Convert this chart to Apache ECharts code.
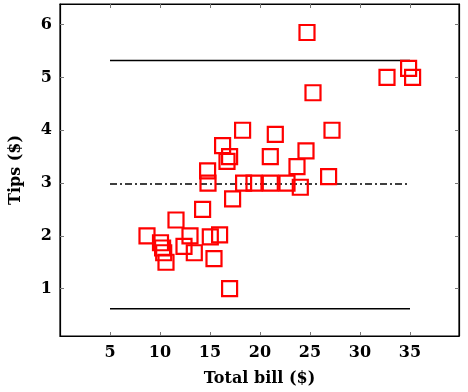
<!DOCTYPE html>
<html><head><meta charset="utf-8">
<script src="https://cdn.jsdelivr.net/npm/echarts@6/dist/echarts.min.js"></script>
<style>html,body{margin:0;padding:0;background:#fff}#c{width:468px;height:392px}</style>
</head><body><div id="c"></div>
<script>
var billX = [24.7, 34.86, 32.7, 35.26, 25.3, 18.26, 27.2, 21.53, 16.26, 16.96, 16.7, 21.03, 24.6, 23.7, 14.76, 14.8, 26.86, 18.36, 19.4, 21.03, 22.7, 24.03, 17.26, 14.26, 11.6, 8.7, 13.0, 15.03, 15.96, 10.05, 12.4, 10.26, 10.37, 13.43, 10.6, 15.4, 16.96];
var tipsY = [5.85, 5.17, 5.0, 5.0, 4.71, 4.0, 4.0, 3.92, 3.71, 3.5, 3.41, 3.5, 3.61, 3.31, 3.23, 3.0, 3.12, 3.0, 3.0, 3.0, 3.0, 2.92, 2.7, 2.5, 2.3, 2.0, 2.0, 1.98, 2.02, 1.87, 1.8, 1.77, 1.68, 1.68, 1.5, 1.57, 1.0];
var lineX = [5, 35];
var upperY = 5.32, meanY = 2.98, lowerY = 0.62;
var xTicks = [5, 10, 15, 20, 25, 30, 35];
var yTicks = [1, 2, 3, 4, 5, 6];

var font = 'DejaVu Serif';
var pts = billX.map(function (x, i) { return [x, tipsY[i]]; });
function hline(y) { return lineX.map(function (x) { return [x, y]; }); }

var chart = echarts.init(document.getElementById('c'));
var axBase = {
  type: 'value', splitLine: { show: false },
  axisLine: { show: true, onZero: false, lineStyle: { color: '#000', width: 1.2 } },
  axisTick: { show: true, inside: true, length: 4, lineStyle: { color: '#777', width: 1 } }
};
chart.setOption({
  animation: false,
  grid: { left: 60, right: 9, top: 4, bottom: 55, show: true, borderColor: '#000', borderWidth: 1.2 },
  xAxis: [
    Object.assign({}, axBase, {
      min: 0, max: 39.9, position: 'bottom',
      axisTick: Object.assign({}, axBase.axisTick, { customValues: xTicks }),
      axisLabel: { customValues: xTicks, fontFamily: font, fontWeight: 'bold', fontSize: 16, color: '#000', margin: 9 },
      name: 'Total bill ($)', nameLocation: 'middle', nameGap: 35,
      nameTextStyle: { fontFamily: font, fontWeight: 'bold', fontSize: 16, color: '#000' }
    }),
    Object.assign({}, axBase, {
      min: 0, max: 39.9, position: 'top',
      axisTick: Object.assign({}, axBase.axisTick, { customValues: xTicks }),
      axisLabel: { show: false }
    })
  ],
  yAxis: [
    Object.assign({}, axBase, {
      min: 0.104, max: 6.39, position: 'left',
      axisTick: Object.assign({}, axBase.axisTick, { customValues: yTicks }),
      axisLabel: { customValues: yTicks, fontFamily: font, fontWeight: 'bold', fontSize: 16, color: '#000', margin: 8 },
      name: 'Tips ($)', nameLocation: 'middle', nameGap: 36, nameRotate: 90,
      nameTextStyle: { fontFamily: font, fontWeight: 'bold', fontSize: 16, color: '#000' }
    }),
    Object.assign({}, axBase, {
      min: 0.104, max: 6.39, position: 'right',
      axisTick: Object.assign({}, axBase.axisTick, { customValues: yTicks }),
      axisLabel: { show: false }
    })
  ],
  series: [
    { type: 'line', data: hline(upperY), symbol: 'none', lineStyle: { color: '#000', width: 1.5 }, z: 1 },
    { type: 'line', data: hline(lowerY), symbol: 'none', lineStyle: { color: '#000', width: 1.5 }, z: 1 },
    { type: 'line', data: hline(meanY), symbol: 'none', lineStyle: { color: '#000', width: 1.5, type: [7, 3, 2, 3] }, z: 1 },
    { type: 'scatter', data: pts, symbol: 'rect', symbolSize: 15,
      itemStyle: { color: 'rgba(0,0,0,0)', borderColor: '#ff0000', borderWidth: 2.2, opacity: 1 }, z: 2 }
  ]
});
</script></body></html>
